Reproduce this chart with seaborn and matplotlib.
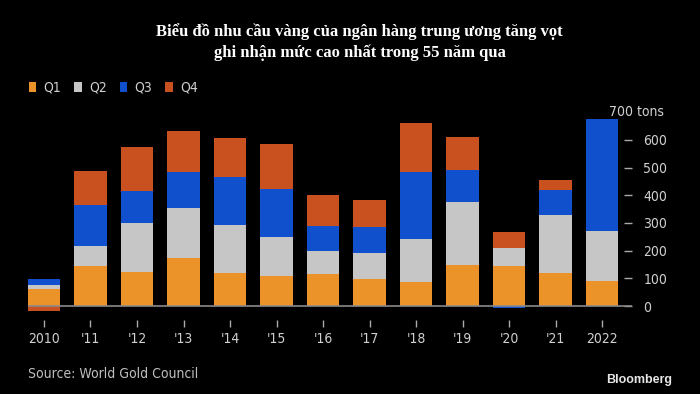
import numpy as np
import pandas as pd
import seaborn as sns
import matplotlib
matplotlib.use("Agg")
import matplotlib.pyplot as plt
from matplotlib.patches import Patch

# ---- data (tons) ----
years = ["2010", "'11", "'12", "'13", "'14", "'15", "'16", "'17", "'18", "'19", "'20", "'21", "2022"]
q1 = [60, 144, 124, 174, 120, 107, 116, 96, 88, 148, 144, 118, 90]
q2 = [15, 73, 175, 180, 171, 142, 81, 97, 154, 229, 64, 209, 182]
q3 = [24, 149, 116, 130, 176, 173, 91, 93, 241, 113, -8, 92, 404]
q4 = [-18, 120, 158, 149, 139, 163, 112, 96, 177, 120, 60, 37, 0]
quarters = ["Q1", "Q2", "Q3", "Q4"]
y_ticks = [0, 100, 200, 300, 400, 500, 600]

colors = ["#EB9229", "#C6C6C6", "#1050CC", "#C9501F"]

sns.set_theme(style="dark")
plt.rcParams["font.family"] = ["DejaVu Sans"]
plt.rcParams["font.stretch"] = "condensed"

fig = plt.figure(figsize=(7, 3.94), dpi=100, facecolor="black")
ax = fig.add_axes([0.0396, 0.1881, 0.8636, 0.5273])
ax.set_facecolor("black")

x = np.arange(len(years))
pos_bottom = np.zeros(len(years))
neg_bottom = np.zeros(len(years))
for vals, col in zip([q1, q2, q3, q4], colors):
    v = np.array(vals, dtype=float)
    bottoms = np.where(v >= 0, pos_bottom, neg_bottom)
    ax.bar(x, v, bottom=bottoms, width=0.7, color=col, edgecolor="none", zorder=2)
    pos_bottom = pos_bottom + np.where(v >= 0, v, 0)
    neg_bottom = neg_bottom + np.where(v < 0, v, 0)

ax.axhline(0, color="#8a8a8a", lw=1.2, zorder=3)

ax.set_xlim(-0.35, 12.65)
ax.set_ylim(-50, 700)
ax.grid(False)
for s in ax.spines.values():
    s.set_visible(False)

ax.set_xticks(x)
ax.set_xticklabels(years)
ax.tick_params(axis="x", direction="out", length=5, width=1, color="#aaaaaa",
               labelcolor="#d0d0d0", labelsize=10, pad=4, bottom=True)

ax.yaxis.tick_right()
ax.set_yticks(y_ticks)
ax.set_yticklabels([str(t) for t in y_ticks])
ax.tick_params(axis="y", direction="in", length=6, width=1, color="#aaaaaa",
               labelcolor="#d0d0d0", labelsize=10, pad=8, right=True, left=False)

ax.annotate("700 tons", xy=(1, 700), xycoords=("axes fraction", "data"),
            xytext=(23, 0), textcoords="offset points", ha="right", va="center",
            color="#d0d0d0", fontsize=10)

# legend
handles = [Patch(facecolor=c, edgecolor="none", label=q) for c, q in zip(colors, quarters)]
leg = fig.legend(handles=handles, loc="center left", bbox_to_anchor=(0.041, 0.777),
                 ncol=4, frameon=False, handlelength=0.55, handleheight=0.75,
                 handletextpad=0.5, columnspacing=0.95, borderpad=0, borderaxespad=0,
                 fontsize=10)
for t in leg.get_texts():
    t.set_color("#d0d0d0")

fig.text(0.514, 0.8934,
         "Biểu đồ nhu cầu vàng của ngân hàng trung ương tăng vọt\nghi nhận mức cao nhất trong 55 năm qua",
         ha="center", va="center", color="white", fontsize=12, fontweight="bold",
         family=["Liberation Serif", "DejaVu Serif"], linespacing=1.3)

fig.text(0.04, (394 - 374.5) / 394, "Source: World Gold Council", ha="left", va="center",
         color="#bfbfbf", fontsize=10)
fig.text(0.96, (394 - 380.5) / 394, "Bloomberg", ha="right", va="center",
         color="#e6e6e6", fontsize=9, fontweight="bold", family=["Liberation Sans", "DejaVu Sans"])

fig.savefig("out.png", dpi=100, facecolor="black")
